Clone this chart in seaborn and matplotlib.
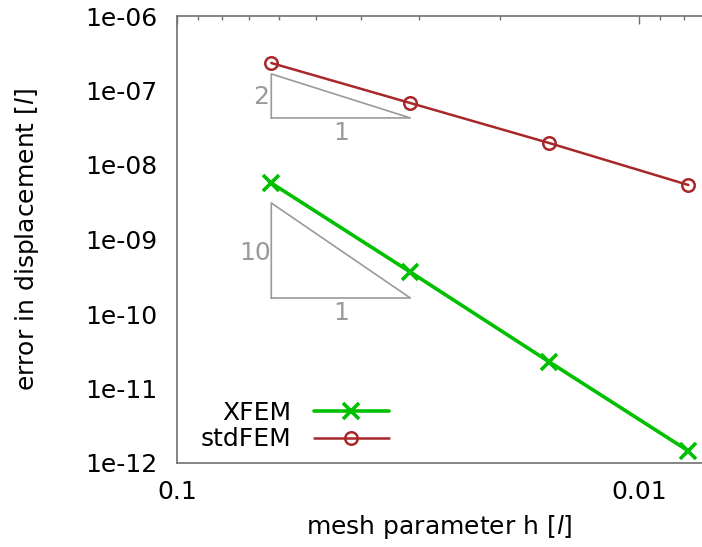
import numpy as np
import pandas as pd
import matplotlib
matplotlib.use("Agg")
import matplotlib.pyplot as plt
import matplotlib.ticker as mticker
import seaborn as sns

# data
h = [0.0625, 0.03125, 0.015625, 0.0078125]
err_xfem = [5.73e-9, 3.66e-10, 2.27e-11, 1.45e-12]
err_std = [2.34e-7, 6.79e-8, 1.97e-8, 5.39e-9]
series_names = ["XFEM", "stdFEM"]

# slope triangles (x, y vertices) and labels
tri1_x = [0.0625, 0.0625, 0.03125, 0.0625]
tri1_y = [4.28e-8, 1.67e-7, 4.28e-8, 4.28e-8]
tri2_x = [0.0625, 0.0625, 0.03125, 0.0625]
tri2_y = [1.64e-10, 3.09e-9, 1.64e-10, 1.64e-10]
tri1_labels = ["2", "1"]
tri2_labels = ["10", "1"]

sns.set_theme(style="white")
plt.rcParams['font.family'] = ['DejaVu Sans']
plt.rcParams['mathtext.fontset'] = 'dejavusans'
plt.rcParams['text.color'] = 'black'
plt.rcParams['axes.labelcolor'] = 'black'

fig = plt.figure(figsize=(7.02, 5.47), dpi=100)
ax = fig.add_axes([177/702, (547-463)/547, 1 - 177/702, (463-16)/547])

df = pd.DataFrame({"h": h * 2, "err": err_xfem + err_std,
                   "method": [series_names[0]] * 4 + [series_names[1]] * 4})

green = "#00c000"
red = "#a8282a"
sns.lineplot(data=df[df.method == "XFEM"], x="h", y="err", ax=ax, color=green,
             lw=2.6, marker="x", markersize=11, markeredgewidth=2.6,
             markeredgecolor=green, label="XFEM")
sns.lineplot(data=df[df.method == "stdFEM"], x="h", y="err", ax=ax, color=red,
             lw=1.8, marker="o", markersize=9, markerfacecolor="none",
             markeredgecolor=red, markeredgewidth=1.8, label="stdFEM")

gray = "#9a9a9a"
ax.plot(tri1_x, tri1_y, color=gray, lw=1.2)
ax.plot(tri2_x, tri2_y, color=gray, lw=1.2)
fs = 18
gm = np.sqrt(tri1_x[0] * tri1_x[2])
ax.text(tri1_x[0] * 1.01, np.sqrt(tri1_y[0] * tri1_y[1]) * 0.98, tri1_labels[0],
        ha="right", va="center", color=gray, fontsize=fs)
ax.text(gm, tri1_y[0] * 0.9, tri1_labels[1], ha="center", va="top",
        color=gray, fontsize=fs)
ax.text(tri2_x[0] * 1.0, np.sqrt(tri2_y[0] * tri2_y[1]) * 0.92, tri2_labels[0],
        ha="right", va="center", color=gray, fontsize=fs)
ax.text(gm, tri2_y[0] * 0.9, tri2_labels[1], ha="center", va="top",
        color=gray, fontsize=fs)

ax.set_xscale("log")
ax.set_yscale("log")
ax.set_xlim(0.1, 0.0073)
ax.set_ylim(1e-12, 1e-6)

ax.xaxis.set_major_locator(mticker.FixedLocator([0.1, 0.01]))
ax.xaxis.set_major_formatter(mticker.FixedFormatter(["0.1", "0.01"]))
ax.xaxis.set_minor_locator(mticker.LogLocator(base=10, subs=np.arange(2, 10)))
ax.xaxis.set_minor_formatter(mticker.NullFormatter())
yt = [10.0 ** e for e in range(-12, -5)]
ax.yaxis.set_major_locator(mticker.FixedLocator(yt))
ax.yaxis.set_major_formatter(mticker.FixedFormatter(["1e-%02d" % (-e) for e in range(-12, -5)]))
ax.yaxis.set_minor_locator(mticker.LogLocator(base=10, subs=[2, 5, 8]))
ax.yaxis.set_minor_formatter(mticker.NullFormatter())

spc = "#707070"
for s in ["left", "bottom", "top"]:
    ax.spines[s].set_color(spc)
    ax.spines[s].set_linewidth(1.2)
ax.spines["right"].set_visible(False)
ax.tick_params(which="both", direction="in", color=spc, top=True, right=False,
               labelsize=fs, labelcolor="black")
ax.tick_params(which="major", length=6, width=1.0)
ax.tick_params(which="minor", length=3, width=1.0)
ax.tick_params(axis="y", which="major", pad=14)
ax.tick_params(axis="x", which="major", pad=12)

ax.set_xlabel("mesh parameter h [$l$]", fontsize=fs, labelpad=7, color="black")
ax.set_ylabel("error in displacement [$l$]", fontsize=fs, labelpad=32, color="black")

leg = ax.legend(loc="lower left", bbox_to_anchor=(0.011, -0.013), frameon=False,
                markerfirst=False, fontsize=fs, handlelength=3.0,
                handletextpad=0.9, labelspacing=0.1, borderpad=0.2)
for t in leg.get_texts():
    t.set_color("black")

fig.savefig("out.png", dpi=100)
